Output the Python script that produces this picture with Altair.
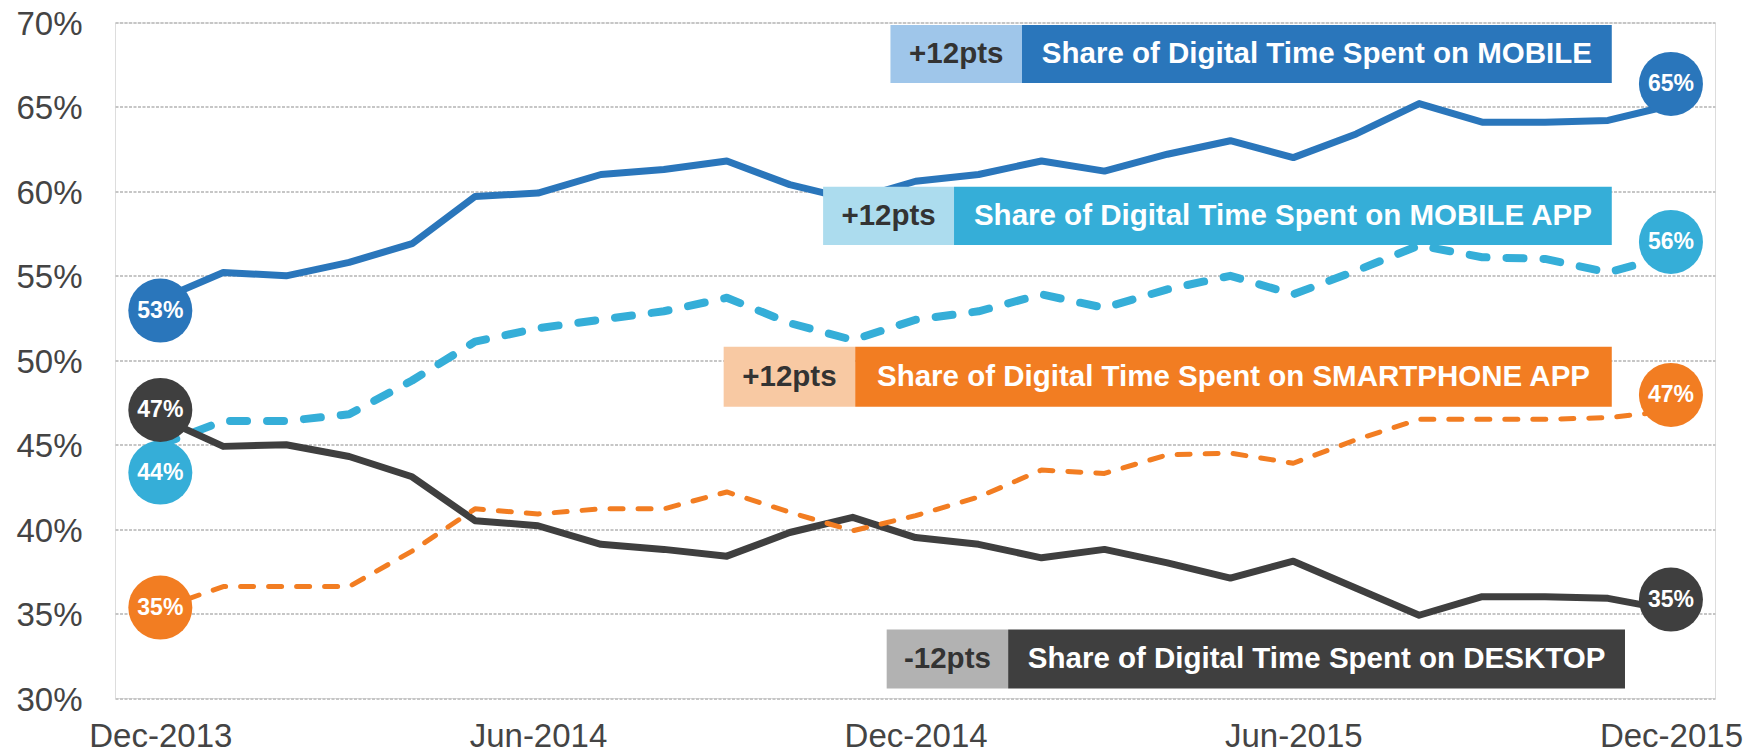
import altair as alt
import pandas as pd

# ---------------- data ----------------
months = ["Dec-2013", "Jan-2014", "Feb-2014", "Mar-2014", "Apr-2014", "May-2014",
          "Jun-2014", "Jul-2014", "Aug-2014", "Sep-2014", "Oct-2014", "Nov-2014",
          "Dec-2014", "Jan-2015", "Feb-2015", "Mar-2015", "Apr-2015", "May-2015",
          "Jun-2015", "Jul-2015", "Aug-2015", "Sep-2015", "Oct-2015", "Nov-2015",
          "Dec-2015"]
tick_months = ["Dec-2013", "Jun-2014", "Dec-2014", "Jun-2015", "Dec-2015"]

mobile = [53.6, 55.2, 55.0, 55.8, 56.9, 59.7, 59.9, 61.0, 61.3, 61.8, 60.4, 59.5,
          60.6, 61.0, 61.8, 61.2, 62.2, 63.0, 62.0, 63.4, 65.2, 64.1, 64.1, 64.2, 65.1]
mobile_app = [45.0, 46.4, 46.4, 46.8, 48.8, 51.1, 51.9, 52.4, 52.9, 53.7, 52.2, 51.2,
              52.4, 52.9, 53.9, 53.1, 54.2, 55.0, 53.9, 55.3, 56.8, 56.1, 56.0, 55.2, 56.2]
smartphone_app = [35.3, 36.6, 36.6, 36.6, 38.7, 41.2, 40.9, 41.2, 41.2, 42.2, 41.0, 39.9,
                  40.8, 41.9, 43.5, 43.3, 44.4, 44.5, 43.9, 45.3, 46.5, 46.5, 46.5, 46.6, 47.0]
desktop = [46.6, 44.9, 45.0, 44.3, 43.1, 40.5, 40.2, 39.1, 38.8, 38.4, 39.8, 40.7,
           39.5, 39.1, 38.3, 38.8, 38.0, 37.1, 38.1, 36.5, 34.9, 36.0, 36.0, 35.9, 35.2]

series = ["MOBILE", "MOBILE APP", "SMARTPHONE APP", "DESKTOP"]
start_labels = [53, 44, 35, 47]
end_labels = [65, 56, 47, 35]
changes = ["+12pts", "+12pts", "+12pts", "-12pts"]

# ---------------- styles ----------------
dark = {"MOBILE": "#2a76bb", "MOBILE APP": "#35aed8",
        "SMARTPHONE APP": "#f27d22", "DESKTOP": "#3f3f3f"}
light = {"MOBILE": "#9fc6ea", "MOBILE APP": "#acdcee",
         "SMARTPHONE APP": "#f8c9a3", "DESKTOP": "#b2b2b2"}
FONT = "Liberation Sans"
PX_PER_PCT = 675.5 / 40.0
# pixel nudges of the value bubbles (positive = down)
start_nudge = {"MOBILE": 1, "MOBILE APP": 11, "SMARTPHONE APP": -6, "DESKTOP": -1}
end_nudge = {"MOBILE": -23, "MOBILE APP": -17, "SMARTPHONE APP": -16, "DESKTOP": -14}
# annotation boxes in data units: (x_left, x_split, x_right, y_bottom, y_top)
box_geom = {
    "MOBILE": (11.60, 13.69, 23.06, 66.42, 69.85),
    "MOBILE APP": (10.53, 12.61, 23.06, 56.83, 60.27),
    "SMARTPHONE APP": (8.95, 11.04, 23.06, 47.25, 50.80),
    "DESKTOP": (11.54, 13.47, 23.27, 30.56, 34.05),
}

values = {"MOBILE": mobile, "MOBILE APP": mobile_app,
          "SMARTPHONE APP": smartphone_app, "DESKTOP": desktop}

df = pd.DataFrame([
    {"i": i, "month": months[i], "series": s, "value": v}
    for s in series for i, v in enumerate(values[s])
])

label_expr = "[" + ",".join("'%s'" % m for m in months) + "][datum.value]"
tick_idx = [months.index(m) for m in tick_months]

x_scale = alt.Scale(domain=[-0.72, 24.7], nice=False, zero=False)
y_scale = alt.Scale(domain=[30, 70], nice=False, zero=False)
x_axis = alt.Axis(values=tick_idx, labelExpr=label_expr, grid=False, domain=False,
                  ticks=False, tickSize=0, labelFontSize=33, labelFont=FONT,
                  labelColor="#444444", labelBaseline="alphabetic", labelPadding=48,
                  title=None, labelOverlap=False)
y_axis = alt.Axis(values=list(range(30, 71, 5)), labelExpr="datum.value + '%'",
                  grid=True, gridDash=[3, 1.5], gridColor="#c6c6c6", gridWidth=2,
                  domain=False, ticks=False, tickSize=0, labelFontSize=33,
                  labelFont=FONT, labelColor="#444444", labelPadding=33,
                  labelOffset=2, title=None, labelOverlap=False)

X = alt.X("i:Q", scale=x_scale, axis=x_axis)
Y = alt.Y("value:Q", scale=y_scale, axis=y_axis)

def line_layer(name, width, dash=None):
    kw = dict(color=dark[name], strokeWidth=width, strokeJoin="round")
    if dash:
        kw.update(strokeDash=dash, strokeCap="round")
    return alt.Chart(df).transform_filter(
        alt.datum.series == name).mark_line(**kw).encode(x=X, y=Y)

lines = [
    line_layer("MOBILE", 7),
    line_layer("MOBILE APP", 8, [17, 20]),
    line_layer("DESKTOP", 7),
    line_layer("SMARTPHONE APP", 5, [13, 15]),
]

# annotation boxes
box_rows, text_rows = [], []
for s, chg in zip(series, changes):
    x0, xm, x1, yb, yt = box_geom[s]
    box_rows.append({"x1": x0, "x2": xm, "y1": yb, "y2": yt, "fill": light[s]})
    box_rows.append({"x1": xm, "x2": x1, "y1": yb, "y2": yt, "fill": dark[s]})
    text_rows.append({"x": (x0 + xm) / 2, "y": (yb + yt) / 2, "t": chg, "c": "#333333"})
    text_rows.append({"x": (xm + x1) / 2, "y": (yb + yt) / 2,
                      "t": "Share of Digital Time Spent on " + s, "c": "#ffffff"})
boxes_df = pd.DataFrame(box_rows)
texts_df = pd.DataFrame(text_rows)

boxes = alt.Chart(boxes_df).mark_rect().encode(
    x=alt.X("x1:Q", scale=x_scale, axis=x_axis), x2="x2:Q",
    y=alt.Y("y1:Q", scale=y_scale, axis=y_axis), y2="y2:Q",
    fill=alt.Fill("fill:N", scale=None))
box_text = alt.Chart(texts_df).mark_text(
    font=FONT, fontSize=29.5, fontWeight="bold", baseline="middle", align="center"
).encode(
    x=alt.X("x:Q", scale=x_scale, axis=x_axis),
    y=alt.Y("y:Q", scale=y_scale, axis=y_axis),
    text="t:N", color=alt.Color("c:N", scale=None))

# value bubbles at both ends of each series
bub_rows = []
for s, a, b in zip(series, start_labels, end_labels):
    bub_rows.append({"i": 0, "cy": a - start_nudge[s] / PX_PER_PCT,
                     "t": "%d%%" % a, "c": dark[s]})
    bub_rows.append({"i": len(months) - 1, "cy": b - end_nudge[s] / PX_PER_PCT,
                     "t": "%d%%" % b, "c": dark[s]})
bub_df = pd.DataFrame(bub_rows)

bubbles = alt.Chart(bub_df).mark_point(
    shape="circle", filled=True, size=4100, opacity=1, strokeWidth=0
).encode(
    x=alt.X("i:Q", scale=x_scale, axis=x_axis),
    y=alt.Y("cy:Q", scale=y_scale, axis=y_axis),
    color=alt.Color("c:N", scale=None))
bubble_text = alt.Chart(bub_df).mark_text(
    font=FONT, fontSize=23, fontWeight="bold", color="white",
    baseline="middle", align="center"
).encode(
    x=alt.X("i:Q", scale=x_scale, axis=x_axis),
    y=alt.Y("cy:Q", scale=y_scale, axis=y_axis),
    text="t:N")

chart = alt.layer(*lines, boxes, box_text, bubbles, bubble_text).properties(
    width=1600, height=675.5,
    padding={"left": 107, "top": 14.5, "right": 39, "bottom": 57},
    autosize=alt.AutoSizeParams(type="none"),
).configure_view(stroke=None).configure(background="white")

chart.save("out.html", embed_options={"renderer": "svg", "actions": False})
